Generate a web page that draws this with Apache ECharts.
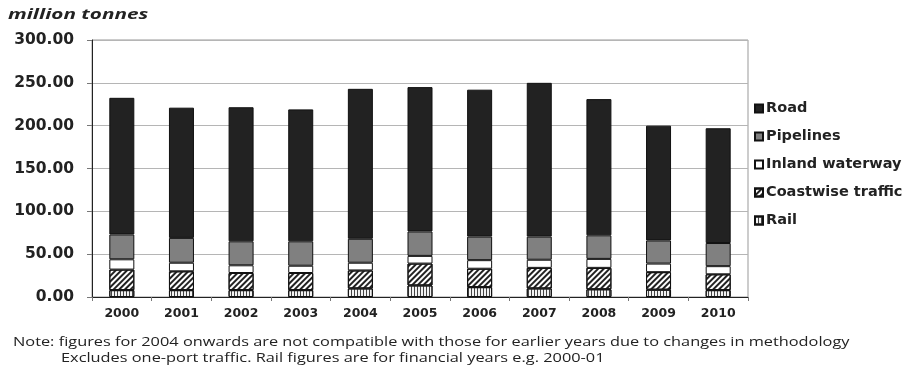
<!DOCTYPE html>
<html><head><meta charset="utf-8">
<script src="https://cdn.jsdelivr.net/npm/echarts@6/dist/echarts.min.js"></script>
<style>html,body{margin:0;padding:0;background:#fff}#c{width:909px;height:366px}</style>
</head><body><div id="c"></div>
<script>
var years = ['2000','2001','2002','2003','2004','2005','2006','2007','2008','2009','2010'];
var rail = [8, 8, 8, 8, 10, 13.5, 11.5, 10, 9, 8.5, 8];
var coastwise = [24, 22, 20, 20, 21, 25.5, 21.5, 24, 25, 20.5, 18.5];
var inland = [12, 10, 9, 8.5, 9, 9, 10, 9.5, 10.5, 10, 9.5];
var pipelines = [29, 29, 28, 28.5, 28, 28.5, 27.5, 27, 27.5, 27, 27];
var road = [159.5, 152, 156.5, 154, 175, 168.5, 171.5, 179.5, 159, 134, 134];
var yTicks = [0, 50, 100, 150, 200, 250, 300];
var unitLabel = 'million tonnes';
var note1 = 'Note: figures for 2004 onwards are not compatible with those for earlier years due to changes in methodology';
var note2 = 'Excludes one-port traffic. Rail figures are for financial years e.g. 2000-01';

var chart = echarts.init(document.getElementById('c'), null, {renderer:'canvas'});
var border = {borderColor:'#111', borderWidth:1};
function ser(name, data, style){
  return {name:name, type:'bar', stack:'t', data:data, barWidth:25,
    itemStyle:Object.assign({}, border, style), emphasis:{disabled:true}};
}
chart.setOption({
  animation:false,
  grid:{left:92, right:161, top:40, bottom:69, show:true, borderColor:'#999', borderWidth:1},
  legend:{orient:'vertical', left:749, top:96, itemGap:13, itemWidth:8, itemHeight:8,
    icon:'rect', textStyle:{fontFamily:'DejaVu Sans', fontWeight:'bold', fontSize:14.5, color:'#222', padding:[0,0,0,-2]},
    data:['Road','Pipelines','Inland waterway','Coastwise traffic','Rail']},
  xAxis:{type:'category', data:years,
    axisLine:{lineStyle:{color:'#222', width:1}},
    axisTick:{show:true, length:4, lineStyle:{color:'#777'}},
    axisLabel:{fontFamily:'DejaVu Sans', fontWeight:'bold', fontSize:12.5, color:'#222', margin:10}},
  yAxis:{type:'value', min:yTicks[0], max:yTicks[yTicks.length-1], interval:50,
    axisLine:{show:true, lineStyle:{color:'#222', width:1}},
    axisTick:{show:true, length:5, lineStyle:{color:'#777'}},
    splitLine:{lineStyle:{color:'#b5b5b5'}},
    axisLabel:{fontFamily:'DejaVu Sans', fontWeight:'bold', fontSize:15.5, color:'#222', margin:18,
      formatter:function(v){return v.toFixed(2);}}},
  series:[
    ser('Rail', rail, {color:'#f2f2f2', decal:{symbol:'rect', symbolSize:1, color:'#444', dashArrayX:[1,2], dashArrayY:[5,0], rotation:0}}),
    ser('Coastwise traffic', coastwise, {color:'#fff', decal:{symbol:'rect', symbolSize:1, color:'#222', dashArrayX:[1,0], dashArrayY:[2,2], rotation:-Math.PI/4}}),
    ser('Inland waterway', inland, {color:'#ffffff'}),
    ser('Pipelines', pipelines, {color:'#808080'}),
    ser('Road', road, {color:'#222222'})
  ],
  graphic:[
    {type:'text', x:8, y:7, scaleX:1.38, style:{text:unitLabel, font:'italic bold 15px "Open Sans", "Liberation Sans"', fill:'#222'}},
    {type:'text', x:13, y:335, scaleX:1.21, style:{text:note1, font:'13.5px "Open Sans"', fill:'#222'}},
    {type:'text', x:61, y:351, scaleX:1.21, style:{text:note2, font:'13.5px "Open Sans"', fill:'#222'}}
  ]
});
</script></body></html>
